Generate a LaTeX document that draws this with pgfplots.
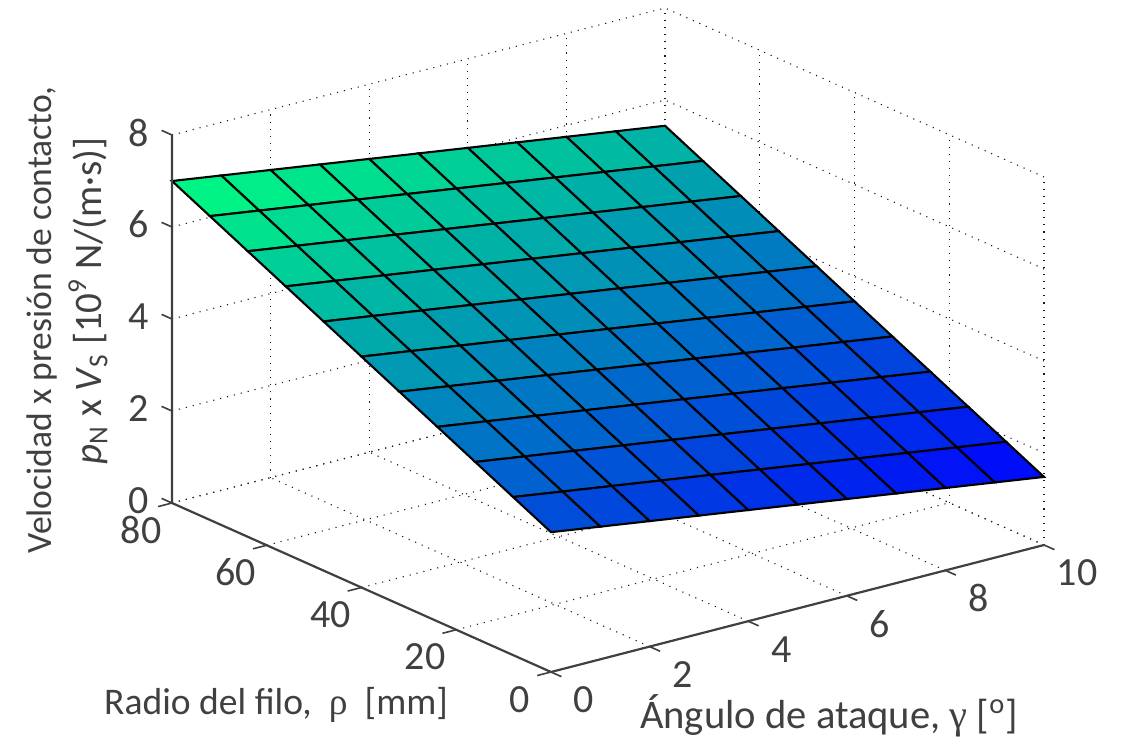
\documentclass[border=0pt]{standalone}
\usepackage{pgfplots}
\usepackage{fontspec}
\setmainfont{Carlito}
\newfontfamily\gr{Liberation Serif}
\pgfplotsset{compat=1.18}
\definecolor{txt}{HTML}{404040}
\newcommand{\px}[2]{(#1*0.5pt,{(739-#2)*0.5pt})}
\begin{document}
\begin{tikzpicture}
\path[use as bounding box] (0,0) rectangle (561.5pt,369.5pt);
\begin{axis}[
  at={(275.5pt,33.5pt)}, anchor=origin,
  x={(24.65pt,6.35pt)}, y={(-2.36875pt,1.05625pt)}, z={(0pt,23pt)},
  xmin=0,xmax=10,ymin=0,ymax=80,zmin=0,zmax=8,
  xtick={0,2,4,6,8,10}, ytick={0,20,40,60,80}, ztick={0,2,4,6,8},
  grid=major,
  grid style={black!90,line width=0.55pt,dash pattern=on 0.55pt off 3pt},
  axis line style={draw=none},
  major tick length=0pt,
  clip=false,
  colormap={winter}{rgb=(0,0,1) rgb=(0,1,0.5)},
  tick label style={font=\fontsize{20}{20}\selectfont,text=txt,inner sep=0pt},
  /pgf/number format/assume math mode=true,
  xticklabel style={anchor=center,xshift=16.5pt,yshift=-14pt},
  yticklabel style={anchor=center,xshift=-15.5pt,yshift=-13.6pt},
  zticklabel style={anchor=center,xshift=-16.5pt,yshift=1.2pt},
]
\addplot3[surf,shader=faceted,faceted color=black,line width=1.05pt,mesh/rows=11,mesh/cols=11,point meta=z] table {
x y z
0 0 3.04
1 0 2.884
2 0 2.728
3 0 2.572
4 0 2.416
5 0 2.26
6 0 2.104
7 0 1.948
8 0 1.792
9 0 1.636
10 0 1.48
0 8 3.436
1 8 3.28
2 8 3.124
3 8 2.968
4 8 2.812
5 8 2.656
6 8 2.5
7 8 2.344
8 8 2.188
9 8 2.032
10 8 1.876
0 16 3.832
1 16 3.676
2 16 3.52
3 16 3.364
4 16 3.208
5 16 3.052
6 16 2.896
7 16 2.74
8 16 2.584
9 16 2.428
10 16 2.272
0 24 4.228
1 24 4.072
2 24 3.916
3 24 3.76
4 24 3.604
5 24 3.448
6 24 3.292
7 24 3.136
8 24 2.98
9 24 2.824
10 24 2.668
0 32 4.624
1 32 4.468
2 32 4.312
3 32 4.156
4 32 4
5 32 3.844
6 32 3.688
7 32 3.532
8 32 3.376
9 32 3.22
10 32 3.064
0 40 5.02
1 40 4.864
2 40 4.708
3 40 4.552
4 40 4.396
5 40 4.24
6 40 4.084
7 40 3.928
8 40 3.772
9 40 3.616
10 40 3.46
0 48 5.416
1 48 5.26
2 48 5.104
3 48 4.948
4 48 4.792
5 48 4.636
6 48 4.48
7 48 4.324
8 48 4.168
9 48 4.012
10 48 3.856
0 56 5.812
1 56 5.656
2 56 5.5
3 56 5.344
4 56 5.188
5 56 5.032
6 56 4.876
7 56 4.72
8 56 4.564
9 56 4.408
10 56 4.252
0 64 6.208
1 64 6.052
2 64 5.896
3 64 5.74
4 64 5.584
5 64 5.428
6 64 5.272
7 64 5.116
8 64 4.96
9 64 4.804
10 64 4.648
0 72 6.604
1 72 6.448
2 72 6.292
3 72 6.136
4 72 5.98
5 72 5.824
6 72 5.668
7 72 5.512
8 72 5.356
9 72 5.2
10 72 5.044
0 80 7
1 80 6.844
2 80 6.688
3 80 6.532
4 80 6.376
5 80 6.22
6 80 6.064
7 80 5.908
8 80 5.752
9 80 5.596
10 80 5.44
};
% axis lines
\addplot3[no marks,color=txt,line width=1.1pt] coordinates {(10,0,0) (0,0,0) (0,80,0) (0,80,8)};
% tick marks
\addplot3[no marks,color=txt,line width=0.8pt,unbounded coords=jump] coordinates {
(0,0,0) (0,-2.2,0) (nan,nan,nan)
(2,0,0) (2,-2.2,0) (nan,nan,nan)
(4,0,0) (4,-2.2,0) (nan,nan,nan)
(6,0,0) (6,-2.2,0) (nan,nan,nan)
(8,0,0) (8,-2.2,0) (nan,nan,nan)
(10,0,0) (10,-2.2,0) (nan,nan,nan)
(0,0,0) (-0.28,0,0) (nan,nan,nan)
(0,20,0) (-0.28,20,0) (nan,nan,nan)
(0,40,0) (-0.28,40,0) (nan,nan,nan)
(0,60,0) (-0.28,60,0) (nan,nan,nan)
(0,80,0) (-0.28,80,0) (nan,nan,nan)
(0,80,0) (0,82.2,0) (nan,nan,nan)
(0,80,2) (0,82.2,2) (nan,nan,nan)
(0,80,4) (0,82.2,4) (nan,nan,nan)
(0,80,6) (0,82.2,6) (nan,nan,nan)
(0,80,8) (0,82.2,8)
};
\end{axis}
\node[text=txt,font=\fontsize{18.8}{19}\selectfont,anchor=center] at \px{276}{705} {Radio del filo,\ \ {\gr ρ}\ \ [mm]};
\node[text=txt,font=\fontsize{20.3}{21}\selectfont,anchor=center] at \px{829}{716} {Ángulo de ataque, {\gr γ} [\textsuperscript{o}]};
\node[text=txt,font=\fontsize{17.8}{18}\selectfont,anchor=center,rotate=90] at \px{42}{320} {Velocidad x presión de contacto,};
\node[text=txt,font=\fontsize{19.5}{20}\selectfont,anchor=center,rotate=90] at \px{88}{301} {\textit{p}\textsubscript{N} x \textit{V}\textsubscript{S} [10\textsuperscript{9} N/(m·s)]};
\end{tikzpicture}
\end{document}
